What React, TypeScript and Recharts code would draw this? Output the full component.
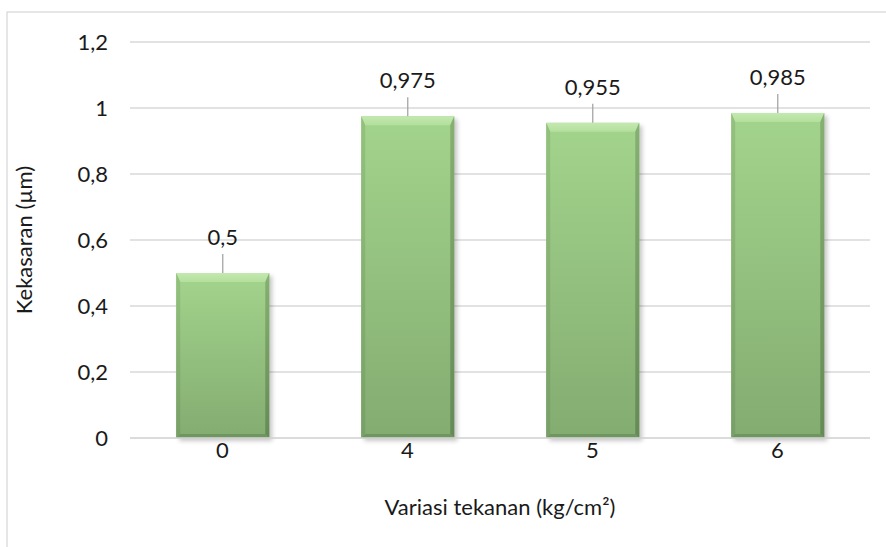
import React from "react";
import { BarChart, Bar, XAxis, YAxis, CartesianGrid, Label } from "recharts";

const categories = ["0", "4", "5", "6"];
const roughness = [0.5, 0.975, 0.955, 0.985];
const yTicks = [0, 0.2, 0.4, 0.6, 0.8, 1, 1.2];

const data = categories.map((c, i) => ({ tekanan: c, kekasaran: roughness[i] }));

const FONT = "Lato, 'Open Sans', sans-serif";
const FS = 22;
const fmt = (v: number) => String(v).replace(".", ",");

const BevelBar = (props: any) => {
  const { x, y, width: w, height: h } = props;
  if (!h || h <= 0) return null;
  const bt = 9; // top bevel
  const bs = 4; // side bevel
  const bb = 4; // bottom bevel
  return (
    <g>
      <rect x={x + 3} y={y + 3} width={w} height={h} fill="rgba(0,0,0,0.22)" filter="url(#barShadow)" />
      <rect x={x} y={y} width={w} height={h} fill="url(#barBody)" />
      <polygon
        points={`${x},${y} ${x + w},${y} ${x + w - bs},${y + bt} ${x + bs},${y + bt}`}
        fill="url(#barTop)"
      />
      <polygon
        points={`${x},${y} ${x + bs},${y + bt} ${x + bs},${y + h - bb} ${x},${y + h}`}
        fill="url(#barLeft)"
      />
      <polygon
        points={`${x + w},${y} ${x + w},${y + h} ${x + w - bs},${y + h - bb} ${x + w - bs},${y + bt}`}
        fill="url(#barRight)"
      />
      <polygon
        points={`${x},${y + h} ${x + w},${y + h} ${x + w - bs},${y + h - bb} ${x + bs},${y + h - bb}`}
        fill="#6f9560"
      />
    </g>
  );
};

const LeaderLabel = (props: any) => {
  const { x, y, width, value } = props;
  const cx = x + width / 2;
  return (
    <g>
      <line x1={cx} y1={y} x2={cx} y2={y - 19} stroke="#a6a6a6" strokeWidth={1.3} />
      <text x={cx} y={y - 28} textAnchor="middle" fontFamily={FONT} fontSize={FS} fill="#1a1a1a">
        {fmt(value)}
      </text>
    </g>
  );
};

export default function App() {
  return (
    <div style={{ position: "absolute", left: 0, top: 0, width: 886, height: 547, background: "#fff" }}>
      <BarChart
        width={886}
        height={547}
        data={data}
        margin={{ top: 42, right: 16, left: 0, bottom: 0 }}
        barCategoryGap="25%"
      >
        <defs>
          <linearGradient id="barBody" x1="0" y1="0" x2="0" y2="1">
            <stop offset="0%" stopColor="#a3d48c" />
            <stop offset="100%" stopColor="#83ac71" />
          </linearGradient>
          <linearGradient id="barTop" x1="0" y1="0" x2="0" y2="1">
            <stop offset="0%" stopColor="#c4e8b1" />
            <stop offset="100%" stopColor="#b2e09b" />
          </linearGradient>
          <linearGradient id="barLeft" x1="0" y1="0" x2="0" y2="1">
            <stop offset="0%" stopColor="#94c27e" />
            <stop offset="100%" stopColor="#789f67" />
          </linearGradient>
          <linearGradient id="barRight" x1="0" y1="0" x2="0" y2="1">
            <stop offset="0%" stopColor="#86b172" />
            <stop offset="100%" stopColor="#658a56" />
          </linearGradient>
          <filter id="barShadow" x="-20%" y="-20%" width="140%" height="140%">
            <feGaussianBlur stdDeviation="2" />
          </filter>
        </defs>
        <rect x={7} y={12} width={900} height={560} fill="none" stroke="#d9d9d9" strokeWidth={1.3} />
        <CartesianGrid vertical={false} stroke="#d9d9d9" strokeWidth={1.3} />
        <XAxis
          dataKey="tekanan"
          height={109}
          tickLine={false}
          axisLine={{ stroke: "#d9d9d9", strokeWidth: 1.3 }}
          tickSize={0}
          tickMargin={4}
          tick={{ fontFamily: FONT, fontSize: FS, fill: "#1a1a1a" }}
        >
          <Label
            value="Variasi tekanan (kg/cm²)"
            position="insideTop"
            offset={61}
            style={{ fontFamily: FONT, fontSize: FS, fill: "#1a1a1a" }}
          />
        </XAxis>
        <YAxis
          width={130}
          domain={[0, 1.2]}
          ticks={yTicks}
          tickLine={false}
          axisLine={false}
          tickSize={0}
          tickMargin={22}
          tickFormatter={fmt}
          tick={{ fontFamily: FONT, fontSize: FS, fill: "#1a1a1a" }}
        >
          <Label
            value="Kekasaran (µm)"
            angle={-90}
            position="insideLeft"
            offset={24}
            style={{ fontFamily: FONT, fontSize: FS, fill: "#1a1a1a", textAnchor: "middle" }}
          />
        </YAxis>
        <Bar
          dataKey="kekasaran"
          shape={<BevelBar />}
          isAnimationActive={false}
          label={<LeaderLabel />}
        />
      </BarChart>
    </div>
  );
}
